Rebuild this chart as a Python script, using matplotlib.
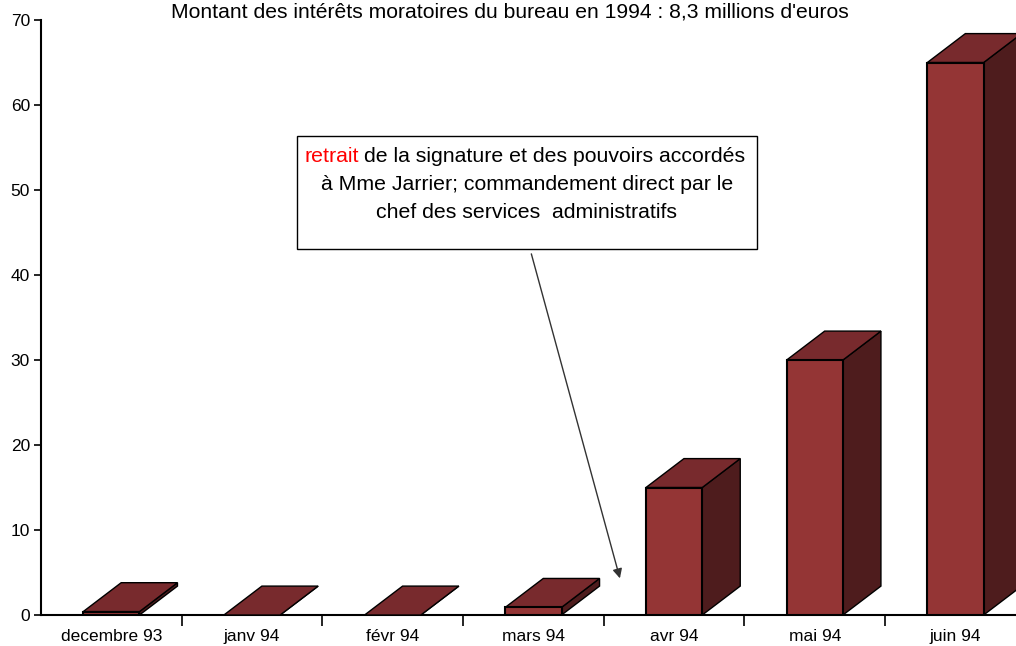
import matplotlib.pyplot as plt
import numpy as np
from matplotlib.patches import Rectangle, Polygon

plt.rcParams['font.family'] = ['Liberation Sans', 'DejaVu Sans']

months = ["decembre 93", "janv 94", "févr 94", "mars 94", "avr 94", "mai 94", "juin 94"]
values = [0.4, 0.0, 0.0, 0.9, 15, 30, 65]
title = "Montant des intérêts moratoires du bureau en 1994 : 8,3 millions d'euros"

front_col = "#943535"
top_col = "#782a2d"
side_col = "#4e1c1d"

fig = plt.figure(figsize=(10.16, 6.46), dpi=100)
ax = fig.add_axes([41 / 1016, 31 / 646, 975 / 1016, 595 / 646])

w = 0.4     # bar width (category units)
dx = 0.27   # depth offset in x
dy = 3.4    # depth offset in y

for i, v in enumerate(values):
    x0, x1 = i - w / 2, i + w / 2
    side = Polygon([(x1, 0), (x1 + dx, dy), (x1 + dx, v + dy), (x1, v)],
                   closed=True, facecolor=side_col, edgecolor="black", lw=1, zorder=3)
    top = Polygon([(x0, v), (x1, v), (x1 + dx, v + dy), (x0 + dx, v + dy)],
                  closed=True, facecolor=top_col, edgecolor="black", lw=1, zorder=3)
    ax.add_patch(side)
    ax.add_patch(top)
    if v > 0:
        ax.add_patch(Rectangle((x0, 0), w, v, facecolor=front_col, edgecolor="black",
                               lw=1.5, zorder=4))

ax.set_xlim(-0.5, 6.43)
ax.set_ylim(0, 70)
ax.spines["top"].set_visible(False)
ax.spines["right"].set_visible(False)
ax.spines["left"].set_linewidth(1.5)
ax.spines["bottom"].set_linewidth(1.5)

ax.set_yticks(np.arange(0, 71, 10))
ax.tick_params(axis="y", direction="out", length=5, width=1.2, labelsize=12.5, pad=3)
ax.set_xticks(np.arange(0.5, 6.5, 1))
ax.set_xticklabels([])
ax.tick_params(axis="x", which="major", direction="out", length=8, width=1.2)
ax.set_xticks(np.arange(len(months)), minor=True)
ax.set_xticklabels(months, minor=True)
ax.tick_params(axis="x", which="minor", length=0, labelsize=12.5, pad=10)

fig.text(510 / 1016, 1 - 12 / 646, title, ha="center", va="center", fontsize=15.2)

# annotation box
fig.patches.append(Rectangle((297 / 1016, 1 - 249 / 646), 460 / 1016, 113 / 646,
                             transform=fig.transFigure, facecolor="white",
                             edgecolor="black", lw=1, zorder=5))
fs = 15.3
fig.text(304 / 1016, 1 - 157 / 646, "retrait", ha="left", va="center",
         fontsize=fs, color="#ff0000", zorder=6)
fig.text(364 / 1016, 1 - 157 / 646, "de la signature et des pouvoirs accordés",
         ha="left", va="center", fontsize=fs, zorder=6)
fig.text(527 / 1016, 1 - 185 / 646, "à Mme Jarrier; commandement direct par le",
         ha="center", va="center", fontsize=fs, zorder=6)
fig.text(527 / 1016, 1 - 212 / 646, "chef des services  administratifs",
         ha="center", va="center", fontsize=fs, zorder=6)

ax.annotate("", xy=(3.62, 4.0), xytext=(2.98, 42.8),
            arrowprops=dict(arrowstyle="-|>", color="#333333", lw=1, mutation_scale=14),
            zorder=6)

fig.savefig("out.png", dpi=100)
